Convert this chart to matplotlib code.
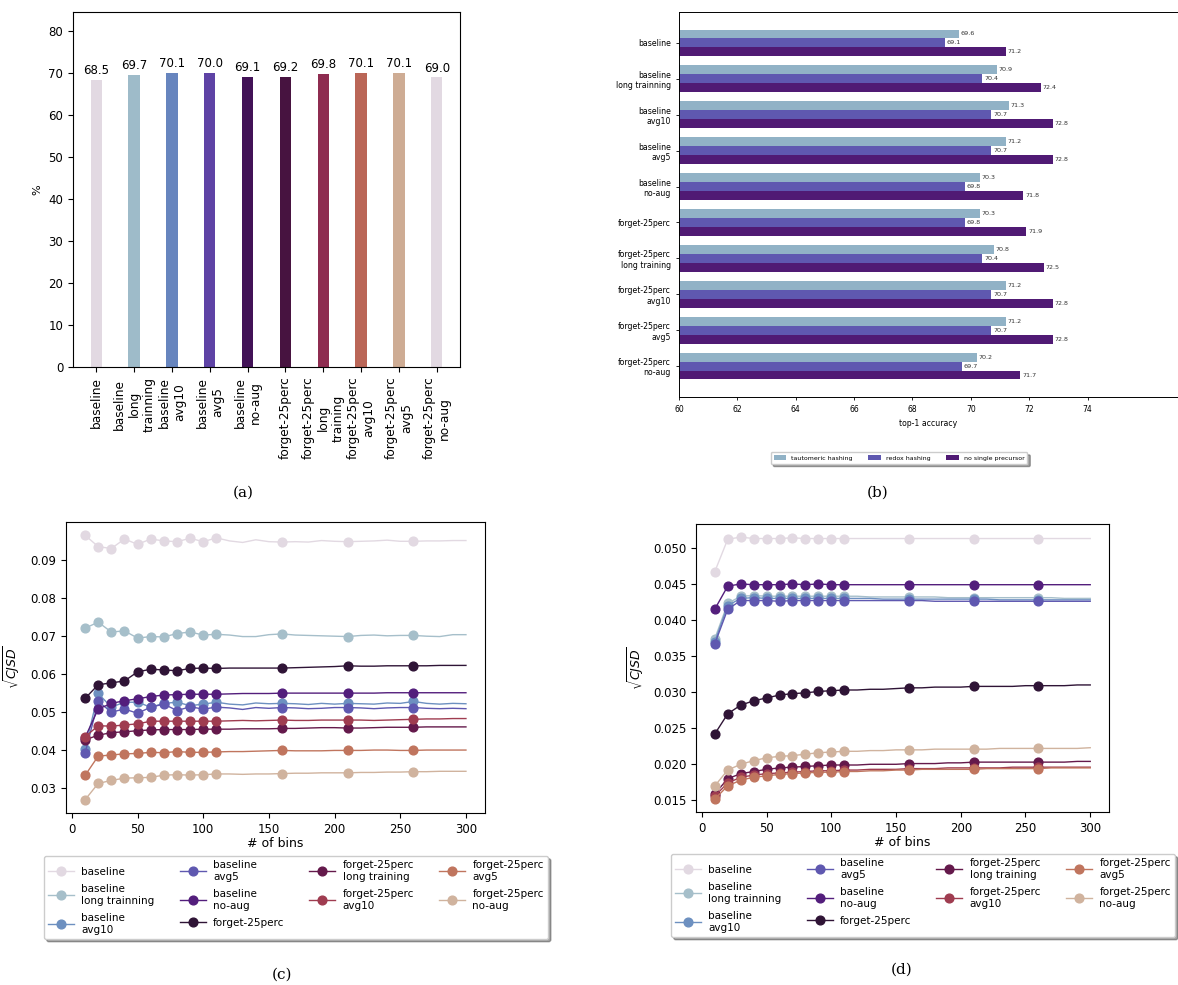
import numpy as np
import matplotlib.pyplot as plt

W, H = 1178, 985

# ---- (a) single accuracy per model ----
bar_names = ['baseline', 'baseline\nlong\ntrainning', 'baseline\navg10', 'baseline\navg5',
             'baseline\nno-aug', 'forget-25perc', 'forget-25perc\nlong\ntraining',
             'forget-25perc\navg10', 'forget-25perc\navg5', 'forget-25perc\nno-aug']
top1 = [68.5, 69.7, 70.1, 70.0, 69.1, 69.2, 69.8, 70.1, 70.1, 69.0]

# ---- (b) top-1 accuracy under the three preprocessing variants ----
model_names = ['baseline', 'baseline\nlong trainning', 'baseline\navg10', 'baseline\navg5',
               'baseline\nno-aug', 'forget-25perc', 'forget-25perc\nlong training',
               'forget-25perc\navg10', 'forget-25perc\navg5', 'forget-25perc\nno-aug']
variant_names = ['tautomeric hashing', 'redox hashing', 'no single precursor']
tautomeric = [69.6, 70.9, 71.3, 71.2, 70.3, 70.3, 70.8, 71.2, 71.2, 70.2]
redox = [69.1, 70.4, 70.7, 70.7, 69.8, 69.8, 70.4, 70.7, 70.7, 69.7]
no_single = [71.2, 72.4, 72.8, 72.8, 71.8, 71.9, 72.5, 72.8, 72.8, 71.7]

# ---- (c), (d) sqrt(CJSD) vs number of bins ----
n_bins = list(range(10, 301, 10))
marker_idx = list(range(11)) + [15, 20, 25]

cjsd_c = {
    'baseline': [.0965, .0935, .0930, .0955, .0941, .0955, .0950, .0948, .0957, .0948, .0958, .0950, .0946, .0953, .0948,
                 .0947, .0948, .0947, .0951, .0949, .0948, .0949, .0950, .0952, .0949, .0949, .0950, .0950, .0951, .0951],
    'long trainning': [.0720, .0736, .0710, .0713, .0694, .0698, .0697, .0706, .0710, .0702, .0704, .0702, .0698, .0698, .0703,
                       .0705, .0702, .0701, .0700, .0699, .0698, .0701, .0702, .0700, .0701, .0701, .0699, .0698, .0703, .0703],
    'avg10': [.0403, .0548, .0512, .0525, .0525, .0512, .0522, .0525, .0516, .0520, .0525, .0520, .0518, .0523, .0521,
              .0522, .0521, .0519, .0522, .0520, .0522, .0521, .0520, .0523, .0522, .0527, .0522, .0520, .0522, .0521],
    'avg5': [.0390, .0527, .0499, .0507, .0496, .0512, .0520, .0503, .0513, .0507, .0512, .0510, .0506, .0511, .0509,
             .0511, .0510, .0508, .0509, .0511, .0511, .0510, .0508, .0510, .0511, .0511, .0509, .0508, .0509, .0508],
    'no-aug': [.0432, .0507, .0522, .0529, .0534, .0540, .0544, .0545, .0546, .0546, .0546, .0547, .0548, .0548, .0548,
               .0549, .0549, .0549, .0549, .0549, .0549, .0549, .0549, .0550, .0550, .0550, .0550, .0550, .0550, .0550],
    'f25': [.0535, .0571, .0576, .0581, .0605, .0612, .0610, .0608, .0614, .0615, .0614, .0615, .0615, .0615, .0615,
            .0615, .0616, .0617, .0618, .0619, .0621, .0620, .0620, .0621, .0621, .0621, .0621, .0622, .0622, .0622],
    'f25 long training': [.0426, .0438, .0445, .0447, .0450, .0452, .0453, .0453, .0453, .0454, .0454, .0454, .0455, .0455, .0455,
                          .0456, .0456, .0457, .0458, .0458, .0457, .0457, .0458, .0459, .0459, .0459, .0460, .0460, .0460, .0460],
    'f25 avg10': [.0434, .0463, .0462, .0465, .0468, .0475, .0475, .0475, .0475, .0475, .0475, .0476, .0477, .0476, .0477,
                  .0478, .0477, .0477, .0478, .0478, .0478, .0478, .0477, .0478, .0479, .0480, .0481, .0481, .0482, .0482],
    'f25 avg5': [.0332, .0383, .0386, .0389, .0390, .0393, .0392, .0395, .0393, .0393, .0394, .0395, .0395, .0396, .0397,
                 .0398, .0397, .0397, .0397, .0398, .0398, .0398, .0399, .0399, .0398, .0398, .0399, .0399, .0399, .0399],
    'f25 no-aug': [.0268, .0311, .0319, .0325, .0326, .0327, .0333, .0334, .0333, .0334, .0336, .0336, .0335, .0336, .0336,
                   .0337, .0338, .0338, .0339, .0339, .0339, .0340, .0340, .0341, .0341, .0342, .0342, .0343, .0343, .0343],
}

cjsd_d = {
    'baseline': [.0467, .0512, .0515, .0513, .0513, .0513, .0514, .0513, .0513, .0513, .0513, .0513, .0513, .0513, .0513,
                 .0513, .0513, .0513, .0513, .0513, .0513, .0513, .0513, .0513, .0513, .0513, .0513, .0513, .0513, .0513],
    'long trainning': [.0374, .0423, .0433, .0434, .0433, .0433, .0433, .0433, .0433, .0433, .0433, .0433, .0432, .0432, .0432,
                       .0432, .0432, .0432, .0431, .0431, .0431, .0431, .0431, .0431, .0431, .0431, .0431, .0430, .0430, .0430],
    'avg10': [.0370, .0420, .0430, .0431, .0430, .0430, .0430, .0430, .0430, .0430, .0430, .0430, .0430, .0429, .0429,
              .0429, .0429, .0429, .0429, .0429, .0429, .0429, .0428, .0428, .0428, .0428, .0428, .0428, .0428, .0428],
    'avg5': [.0367, .0415, .0427, .0427, .0427, .0426, .0427, .0427, .0427, .0427, .0427, .0427, .0427, .0427, .0427,
             .0427, .0427, .0426, .0426, .0426, .0426, .0426, .0426, .0426, .0426, .0426, .0426, .0426, .0426, .0426],
    'no-aug': [.0415, .0447, .0450, .0449, .0449, .0449, .0450, .0449, .0450, .0449, .0449, .0449, .0449, .0449, .0449,
               .0449, .0449, .0449, .0449, .0449, .0449, .0449, .0449, .0449, .0449, .0449, .0449, .0449, .0449, .0449],
    'f25': [.0242, .0270, .0282, .0288, .0292, .0296, .0298, .0299, .0301, .0302, .0303, .0303, .0304, .0304, .0305,
            .0306, .0306, .0307, .0307, .0307, .0308, .0308, .0308, .0308, .0309, .0309, .0309, .0309, .0310, .0310],
    'f25 long training': [.0159, .0180, .0187, .0190, .0193, .0195, .0196, .0197, .0198, .0199, .0199, .0199, .0200, .0200, .0200,
                          .0201, .0201, .0201, .0202, .0202, .0203, .0203, .0203, .0203, .0203, .0203, .0203, .0203, .0204, .0204],
    'f25 avg10': [.0156, .0174, .0182, .0185, .0187, .0188, .0189, .0190, .0191, .0191, .0192, .0192, .0193, .0193, .0193,
                  .0194, .0194, .0194, .0195, .0195, .0195, .0195, .0195, .0196, .0196, .0196, .0196, .0196, .0196, .0196],
    'f25 avg5': [.0152, .0170, .0178, .0182, .0184, .0186, .0187, .0188, .0189, .0189, .0190, .0190, .0191, .0191, .0192,
                 .0192, .0193, .0193, .0193, .0193, .0193, .0194, .0194, .0194, .0194, .0194, .0195, .0195, .0195, .0195],
    'f25 no-aug': [.0170, .0192, .0200, .0205, .0209, .0211, .0212, .0214, .0216, .0217, .0218, .0218, .0219, .0219, .0220,
                   .0220, .0220, .0221, .0221, .0221, .0221, .0221, .0222, .0222, .0222, .0222, .0222, .0222, .0222, .0223],
}

cmap = plt.get_cmap('twilight')


def px_axes(fig, left, top, right, bottom):
    # place an axes using pixel edges of the final image
    return fig.add_axes([left / W, 1 - bottom / H, (right - left) / W, (bottom - top) / H])


fig = plt.figure(figsize=(W / 100, H / 100), dpi=100)

# (a)
ax = px_axes(fig, 73, 12, 460, 367)
x = np.arange(len(top1))
bars = ax.bar(x, top1, width=0.3, color=cmap(np.linspace(0, 1, len(top1))))
ax.bar_label(bars, fmt='%.1f', padding=2, fontsize=8.5)
ax.set_ylim(0, 84.6)
ax.set_xticks(x)
ax.set_xticklabels(bar_names, rotation=90, fontsize=8.7)
ax.tick_params(axis='y', labelsize=8.5)
ax.set_ylabel('%', fontsize=8)

# (b)
ax = px_axes(fig, 679, 12, 1178, 397)
y = np.arange(len(model_names))
h = 0.25
bar_colors = [cmap(0.13), cmap(0.3), cmap(0.41)]
for k, (vals, lab) in enumerate(zip([tautomeric, redox, no_single], variant_names)):
    ax.barh(y + (k - 1) * h, np.array(vals) - 60, height=h, left=60, color=bar_colors[k], label=lab)
    for yi, v in zip(y, vals):
        ax.text(v + 0.06, yi + (k - 1) * h, f'{v:.1f}', va='center', ha='left', fontsize=4.6,
                color='#333333', bbox=dict(facecolor='white', edgecolor='none', pad=0.6))
ax.set_yticks(y)
ax.set_yticklabels(model_names, fontsize=5.6)
ax.set_xlim(60, 77.1)
ax.set_xticks(np.arange(60, 75, 2))
ax.tick_params(axis='x', labelsize=5.5, length=2.5, width=0.6)
ax.tick_params(axis='y', length=2.5, width=0.6)
ax.invert_yaxis()
ax.spines['right'].set_visible(False)
for s in ax.spines.values():
    s.set_linewidth(0.7)
ax.set_xlabel('top-1 accuracy', fontsize=5.6, labelpad=3)
ax.legend(loc='upper center', bbox_to_anchor=(899 / W, 1 - 449 / H), bbox_transform=fig.transFigure,
          ncol=3, fontsize=4.5, shadow=True, columnspacing=2.5, borderpad=0.5)


def bins_panel(box, data, labelpad, leg_center, leg_top):
    ax = px_axes(fig, *box)
    for i, (lab, vals) in enumerate(zip(model_names, data.values())):
        ax.plot(n_bins, vals, '-o', color=cmap(i / 10), lw=1, ms=6.3,
                markevery=marker_idx, label=lab)
    ax.set_xlabel('# of bins', fontsize=9, labelpad=1)
    ax.set_ylabel(r'$\sqrt{CJSD}$', fontsize=9, labelpad=labelpad)
    ax.tick_params(labelsize=8.5)
    ax.legend(loc='upper center', bbox_to_anchor=(leg_center / W, 1 - leg_top / H),
              bbox_transform=fig.transFigure, ncol=4, fontsize=7.5, shadow=True,
              labelspacing=0.7, columnspacing=2.4, handlelength=2.5, handletextpad=0.7,
              borderaxespad=0)
    return ax


bins_panel((66, 522, 485, 813), cjsd_c, 6, 296, 856)
bins_panel((696, 524, 1109, 812), cjsd_d, 5, 923, 854)

# sub-figure captions
cap = dict(fontsize=11, family='DejaVu Serif', ha='center', va='center')
fig.text(243 / W, 1 - 493 / H, '(a)', **cap)
fig.text(878 / W, 1 - 493 / H, '(b)', **cap)
fig.text(282 / W, 1 - 975 / H, '(c)', **cap)
fig.text(902 / W, 1 - 970 / H, '(d)', **cap)

fig.savefig('out.png', dpi=100)
